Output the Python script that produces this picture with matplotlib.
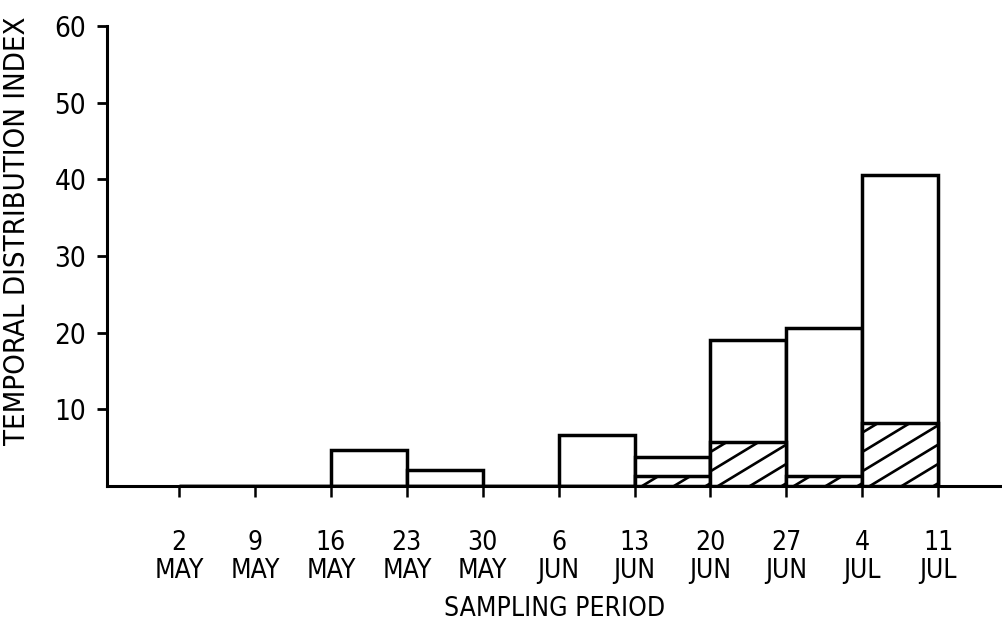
import numpy as np
import matplotlib
matplotlib.use("Agg")
import matplotlib.pyplot as plt

# sampling periods (tick labels) and the index values for each weekly interval
periods = ["2\nMAY", "9\nMAY", "16\nMAY", "23\nMAY", "30\nMAY", "6\nJUN",
           "13\nJUN", "20\nJUN", "27\nJUN", "4\nJUL", "11\nJUL"]
total = [0, 0, 4.7, 2.1, 0, 6.6, 3.8, 19.1, 20.6, 40.5]
hatched = [0, 0, 0, 0, 0, 0, 1.3, 5.8, 1.3, 8.2]

plt.rcParams["font.family"] = ["DejaVu Sans"]
plt.rcParams["font.stretch"] = "condensed"

fig = plt.figure(figsize=(10.03, 6.32), dpi=100)
ax = fig.add_axes([0.1067, 0.231, 0.893, 0.728])

x = np.arange(len(total))
lw = 2.5

bars = ax.bar(x, total, width=1, align="edge", facecolor="white",
              edgecolor="black", linewidth=lw, zorder=2)
hbars = ax.bar(x, hatched, width=1, align="edge", facecolor="white",
               edgecolor="black", linewidth=lw, zorder=3)

# diagonal hatching, clipped to each hatched bar
slope = 6.0     # data units of y per unit of x
step = 0.42
for b, h in zip(hbars, hatched):
    if h <= 0:
        continue
    x0 = b.get_x()
    for s in np.arange(x0 - 2, x0 + 1.5, step):
        xs = np.array([s, s + 2])
        ln, = ax.plot(xs, slope * (xs - s), color="black", lw=1.9, zorder=4)
        ln.set_clip_path(b)

ax.set_xlim(-0.95, 10.85)
ax.set_ylim(0, 60)

ax.spines["top"].set_visible(False)
ax.spines["right"].set_visible(False)
ax.spines["left"].set_linewidth(2.2)
ax.spines["bottom"].set_linewidth(2.2)

ax.set_xticks(np.arange(len(periods)))
ax.set_xticklabels(periods, fontsize=19, linespacing=1.1)
ax.set_yticks([10, 20, 30, 40, 50, 60])
ax.tick_params(axis="y", labelsize=20, length=7, width=2, pad=8)
ax.tick_params(axis="x", length=8, width=1.8, pad=24)

ax.set_xlabel("SAMPLING PERIOD", fontsize=19, labelpad=8)
ax.set_ylabel("TEMPORAL DISTRIBUTION INDEX", fontsize=21)
ax.yaxis.set_label_coords(-0.085, 0.555)

fig.savefig("out.png", dpi=100)
